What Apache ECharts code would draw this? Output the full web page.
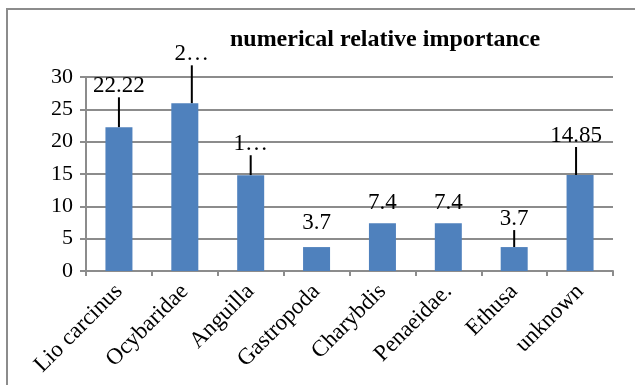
<!DOCTYPE html>
<html>
<head>
<meta charset="utf-8">
<script src="https://cdn.jsdelivr.net/npm/echarts@6/dist/echarts.min.js"></script>
<style>
  html, body { margin: 0; padding: 0; background: #fff; }
  #chart { width: 635px; height: 385px; }
</style>
</head>
<body>
<div id="chart"></div>
<script>
// Prey groups and their numerical relative importance (%)
const categories = ['Lio carcinus', 'Ocybaridae', 'Anguilla', 'Gastropoda', 'Charybdis', 'Penaeidae.', 'Ethusa', 'unknown'];
const values = [22.22, 25.93, 14.81, 3.7, 7.4, 7.4, 3.7, 14.85];
const yTicks = [0, 5, 10, 15, 20, 25, 30];

// Label placement: shift away from the bar top, with a leader line where moved far
const labelDx = [0, 7, 0, 0, 0, 0, 0, -4];
const labelDy = [-25, -33, -15, -8, -4, -4, -12, -23];
const withLeader = [true, true, true, false, false, false, true, true];
const truncated = [false, true, true, false, false, false, false, false];

const serif = '"Liberation Serif", "Times New Roman", serif';
const gridGray = '#8c8c8c';

const seriesData = values.map((v, i) => {
  const item = { value: v, labelLine: { show: withLeader[i] } };
  if (truncated[i]) {
    item.label = { width: 36, overflow: 'truncate', ellipsis: '…' };
  }
  return item;
});

const chart = echarts.init(document.getElementById('chart'), null, { renderer: 'canvas' });
chart.setOption({
  animation: false,
  backgroundColor: '#fff',
  title: {
    text: 'numerical relative importance',
    left: 380,
    top: 23,
    textAlign: 'center',
    textStyle: { fontFamily: serif, fontWeight: 'bold', fontSize: 24, color: '#000' }
  },
  graphic: [
    { type: 'line', shape: { x1: 6, y1: 9, x2: 635, y2: 9 }, style: { stroke: gridGray, lineWidth: 2 } },
    { type: 'line', shape: { x1: 7, y1: 8, x2: 7, y2: 385 }, style: { stroke: gridGray, lineWidth: 2 } }
  ],
  grid: { left: 86, right: 22, top: 77, bottom: 114, containLabel: false },
  xAxis: {
    type: 'category',
    data: categories,
    axisLine: { show: true, lineStyle: { color: gridGray, width: 2 } },
    axisTick: { show: true, length: 5, lineStyle: { color: gridGray, width: 2 } },
    axisLabel: {
      rotate: 45,
      interval: 0,
      margin: 17,
      fontFamily: serif,
      fontSize: 23,
      color: '#000'
    }
  },
  yAxis: {
    type: 'value',
    min: yTicks[0],
    max: yTicks[yTicks.length - 1],
    interval: yTicks[1] - yTicks[0],
    axisLine: { show: true, lineStyle: { color: gridGray, width: 2 } },
    axisTick: { show: true, length: 6, lineStyle: { color: gridGray, width: 2 } },
    splitLine: { show: true, lineStyle: { color: gridGray, width: 2 } },
    axisLabel: { fontFamily: serif, fontSize: 22, color: '#000', margin: 13 }
  },
  series: [{
    type: 'bar',
    data: seriesData,
    barWidth: 27,
    itemStyle: { color: '#4F81BD' },
    label: {
      show: true,
      position: 'top',
      distance: 5,
      fontFamily: serif,
      fontSize: 23,
      color: '#000'
    },
    labelLine: { show: true, lineStyle: { color: '#000', width: 2 } },
    labelLayout: function (p) {
      return { dx: labelDx[p.dataIndex], dy: labelDy[p.dataIndex] };
    }
  }]
});
</script>
</body>
</html>
